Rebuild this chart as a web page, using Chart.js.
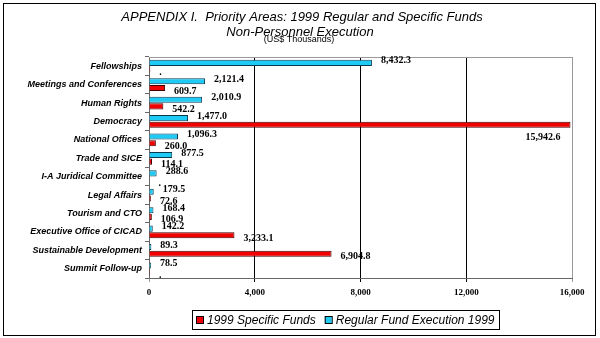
<!DOCTYPE html>
<html>
<head>
<meta charset="utf-8">
<script src="https://cdn.jsdelivr.net/npm/chart.js@4"></script>
<style>
    html, body { margin: 0; padding: 0; background: #fff; }
    #wrap { width: 600px; height: 338px; position: relative; }
</style>
</head>
<body>
<div id="wrap"><canvas id="fundsChart" width="600" height="338"></canvas></div>
<script>
// Chart data (US$ thousands)
const categories = ['Fellowships', 'Meetings and Conferences', 'Human Rights', 'Democracy',
    'National Offices', 'Trade and SICE', 'I-A Juridical Committee', 'Legal Affairs',
    'Tourism and CTO', 'Executive Office of CICAD', 'Sustainable Development', 'Summit Follow-up'];
const regularFund = [8432.3, 2121.4, 2010.9, 1477.0, 1096.3, 877.5, 288.6, 179.5, 168.4, 142.2, 89.3, 78.5];
const specificFunds = [50, 609.7, 542.2, 15942.6, 260.0, 114.1, 20, 72.6, 106.9, 3233.1, 6904.8, 40];
const xTicks = [0, 4000, 8000, 12000, 16000];

const fmt = v => v.toLocaleString('en-US', { minimumFractionDigits: 1, maximumFractionDigits: 1 });

// title, frame, legend and data labels drawn on top of the chart
const decorations = {
    id: 'decorations',
    beforeDraw(chart) {
        const c = chart.ctx;
        c.save();
        c.fillStyle = '#fff';
        c.fillRect(0, 0, chart.width, chart.height);
        c.restore();
    },
    afterDatasetsDraw(chart) {
        const c = chart.ctx;
        const area = chart.chartArea;
        c.save();
        // plot frame top/right
        c.strokeStyle = '#999';
        c.lineWidth = 1;
        c.beginPath();
        c.moveTo(area.left, area.top + 0.5);
        c.lineTo(area.right + 0.5, area.top + 0.5);
        c.lineTo(area.right + 0.5, area.bottom);
        c.stroke();

        c.font = 'bold 10px "Liberation Serif"';
        c.fillStyle = '#000';
        c.textBaseline = 'middle';
        chart.getDatasetMeta(0).data.forEach((bar, i) => {
            c.textAlign = 'left';
            c.fillText(fmt(regularFund[i]), bar.x + 9, bar.y - 2);
        });
        chart.getDatasetMeta(1).data.forEach((bar, i) => {
            const v = specificFunds[i];
            const txt = v < 60 ? '.' : fmt(v);
            if (bar.x > area.right - 60) {
                c.textAlign = 'right';
                c.fillText(txt, bar.x - 10, bar.y + 13);
            } else {
                c.textAlign = 'left';
                c.fillText(txt, bar.x + 9, bar.y + 3);
            }
        });
        c.restore();
    },
    afterDraw(chart) {
        const c = chart.ctx;
        c.save();
        // outer frame
        c.strokeStyle = '#000';
        c.lineWidth = 1;
        c.strokeRect(3.5, 3.5, chart.width - 8, chart.height - 6);

        // titles
        c.fillStyle = '#000';
        c.textAlign = 'center';
        c.textBaseline = 'middle';
        c.font = 'italic 13px "Liberation Sans"';
        c.fillText('APPENDIX I.  Priority Areas: 1999 Regular and Specific Funds', 302, 17);
        c.fillText('Non-Personnel Execution', 300, 32);
        c.font = '9px "Liberation Sans Narrow", "Liberation Sans"';
        c.fillText('(US$ Thousands)', 299, 40);

        // legend, specific funds first
        c.strokeRect(192.5, 310.5, 307, 19);
        c.font = 'italic 12px "Liberation Sans"';
        c.textAlign = 'left';
        let x = 196;
        [1, 0].forEach(d => {
            const ds = chart.data.datasets[d];
            c.fillStyle = ds.backgroundColor;
            c.fillRect(x, 316, 7, 7);
            c.strokeStyle = '#000';
            c.strokeRect(x + 0.5, 316.5, 7, 7);
            c.fillStyle = '#000';
            c.fillText(ds.label, x + 11, 320.5);
            x += 11 + c.measureText(ds.label).width + 9;
        });
        c.restore();
    }
};

new Chart(document.getElementById('fundsChart'), {
    type: 'bar',
    data: {
        labels: categories,
        datasets: [
            {
                label: 'Regular Fund Execution 1999',
                data: regularFund,
                backgroundColor: '#1ECBF5',
                borderColor: '#0A3A50',
                borderWidth: 1,
                categoryPercentage: 0.72,
                barPercentage: 0.92
            },
            {
                label: '1999 Specific Funds',
                data: specificFunds,
                backgroundColor: '#F00000',
                borderColor: '#400000',
                borderWidth: 1,
                categoryPercentage: 0.72,
                barPercentage: 0.92
            }
        ]
    },
    options: {
        indexAxis: 'y',
        responsive: false,
        animation: false,
        layout: { padding: { top: 57, left: 6, right: 28, bottom: 38 } },
        scales: {
            x: {
                min: xTicks[0],
                max: xTicks[xTicks.length - 1],
                afterBuildTicks(axis) { axis.ticks = xTicks.map(v => ({ value: v })); },
                ticks: {
                    color: '#000',
                    font: { family: '"Liberation Serif"', size: 9, weight: 'bold' },
                    padding: 5,
                    callback: v => v.toLocaleString('en-US')
                },
                grid: {
                    color: ctx => (ctx.tick && (ctx.tick.value === 0 || ctx.tick.value === 16000)) ? '#999' : '#000',
                    tickLength: 4
                },
                border: { color: '#666' },
                afterFit(axis) { axis.height = 22; }
            },
            y: {
                ticks: {
                    color: '#000',
                    font: { family: '"Liberation Sans"', size: 9, weight: 'bold', style: 'italic' },
                    padding: 3
                },
                grid: { drawOnChartArea: false, tickLength: 4, color: '#666' },
                border: { color: '#666' },
                afterFit(axis) { axis.width = 143; }
            }
        },
        plugins: {
            legend: { display: false },
            tooltip: { enabled: false }
        }
    },
    plugins: [decorations]
});
</script>
</body>
</html>
